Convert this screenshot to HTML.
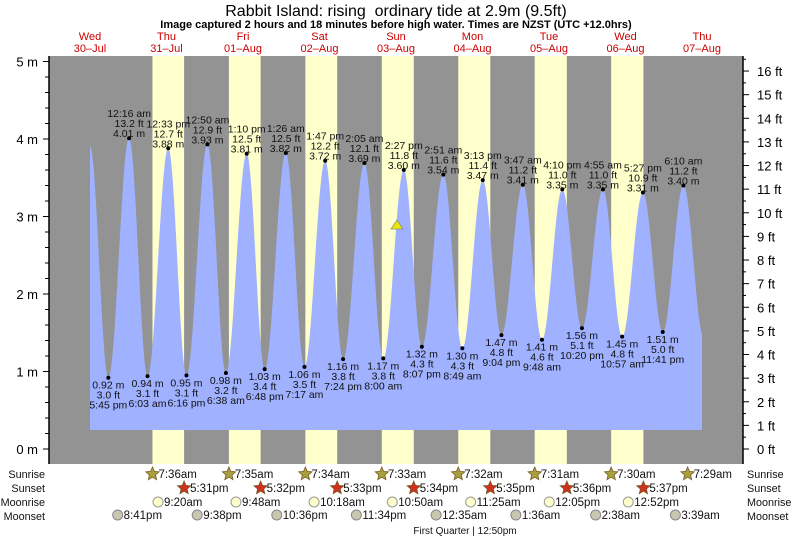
<!DOCTYPE html>
<html><head><meta charset="utf-8">
<style>
html,body{margin:0;padding:0;background:#fff;}
svg{display:block;font-family:"Liberation Sans",sans-serif;}
</style></head>
<body>
<svg id="s" width="793" height="538" viewBox="0 0 793 538" xmlns="http://www.w3.org/2000/svg">
<text x="396" y="16" font-size="16" text-anchor="middle" fill="#000">Rabbit Island: rising&#160; ordinary tide at 2.9m (9.5ft)</text>
<text x="396" y="28" font-size="11" font-weight="bold" text-anchor="middle" fill="#000">Image captured 2 hours and 18 minutes before high water. Times are NZST (UTC +12.0hrs)</text>
<rect x="49" y="56" width="694" height="408" fill="#939393"/>
<g id="g"></g>
</svg>
<script>
var NS="http://www.w3.org/2000/svg",g=document.getElementById('g');
function el(t,a,txt){var e=document.createElementNS(NS,t);for(var k in a)e.setAttribute(k,a[k]);if(txt!=null)e.textContent=txt;g.appendChild(e);return e;}
var X0=51.75,PH=3.1875,Y0=449,PM=77.5;
function X(h){return X0+h*PH;}function Y(m){return Y0-m*PM;}
var days=["Wed|30–Jul","Thu|31–Jul","Fri|01–Aug","Sat|02–Aug","Sun|03–Aug","Mon|04–Aug","Tue|05–Aug","Wed|06–Aug","Thu|07–Aug"];
var sr=[null,"7:36",  "7:35","7:34","7:33","7:32","7:31","7:30","7:29"];
var ss=[null,"5:31","5:32","5:33","5:34","5:35","5:36","5:37",null];
function hm(s,pm){var p=s.split(':');var h=+p[0]%12+(pm?12:0);return h+(+p[1])/60;}
for(var d=1;d<=7;d++){var a=X(24*d+hm(sr[d],0)),b=X(24*d+hm(ss[d],1));el('rect',{x:a,y:56,width:b-a,height:408,fill:'#ffffcc'});}
days.forEach(function(s,i){var p=s.split('|'),x=X(24*i+12);el('text',{x:x,y:40,'font-size':11,'text-anchor':'middle',fill:'#cc0000'},p[0]);el('text',{x:x,y:52,'font-size':11,'text-anchor':'middle',fill:'#cc0000'},p[1]);});
var T=[["5:45 pm",.92,3.0,0],["12:16 am",4.01,13.2,1],["6:03 am",.94,3.1,1],["12:33 pm",3.88,12.7,1],["6:16 pm",.95,3.1,1],["12:50 am",3.93,12.9,2],["6:38 am",.98,3.2,2],["1:10 pm",3.81,12.5,2],["6:48 pm",1.03,3.4,2],["1:26 am",3.82,12.5,3],["7:17 am",1.06,3.5,3],["1:47 pm",3.72,12.2,3],["7:24 pm",1.16,3.8,3],["2:05 am",3.69,12.1,4],["8:00 am",1.17,3.8,4],["2:27 pm",3.60,11.8,4],["8:07 pm",1.32,4.3,4],["2:51 am",3.54,11.6,5],["8:49 am",1.30,4.3,5],["3:13 pm",3.47,11.4,5],["9:04 pm",1.47,4.8,5],["3:47 am",3.41,11.2,6],["9:48 am",1.41,4.6,6],["4:10 pm",3.35,11.0,6],["10:20 pm",1.56,5.1,6],["4:55 am",3.35,11.0,7],["10:57 am",1.45,4.8,7],["5:27 pm",3.31,10.9,7],["11:41 pm",1.51,5.0,7],["6:10 am",3.40,11.2,8]];
var P=[[12,3.9]];T.forEach(function(t){var p=t[0].split(' ');var h=24*t[3]+hm(p[0],p[1]=='pm');t.h=h;P.push([h,t[1]]);});P.push([204.5,1.45]);
var bot=430,xs=90,xe=702,d="M"+xs+","+bot;
for(var x=xs;x<=xe;x+=0.5){var h=(x-X0)/PH,v;for(var i=0;i<P.length-1;i++){if(h>=P[i][0]&&h<=P[i+1][0]){var f=(h-P[i][0])/(P[i+1][0]-P[i][0]);v=P[i][1]+(P[i+1][1]-P[i][1])*(1-Math.cos(Math.PI*f))/2;break;}}if(v==null)v=P[P.length-1][1];d+=" L"+x+","+Y(v).toFixed(2);}
d+=" L"+xe+","+bot+" Z";el('path',{d:d,fill:'#9fb1ff'});
T.forEach(function(t,i){var x=X(t.h),y=Y(t[1]);el('circle',{cx:x,cy:y,r:2,fill:'#000'});var hi=t[1]>2;var L=[t[0],t[2].toFixed(1)+" ft",t[1].toFixed(2)+" m"];
if(hi){for(var k=0;k<3;k++)el('text',{x:x,y:y-21+k*10,'font-size':10.5,'text-anchor':'middle',fill:'#111'},L[k]);}
else{L.reverse();for(var k=0;k<3;k++)el('text',{x:x,y:y+11+k*10,'font-size':10.5,'text-anchor':'middle',fill:'#111'},L[k]);}});
el('polygon',{points:"391,229 397,220 403,229",fill:'#e8e800',stroke:'#888','stroke-width':0.7});
el('line',{x1:49,y1:56,x2:49,y2:464,stroke:'#000','stroke-width':1.5});el('line',{x1:743,y1:56,x2:743,y2:464,stroke:'#000','stroke-width':1.5});
for(var m=0;m<=5.01;m+=0.2){var y=Y(m),mj=Math.abs(m-Math.round(m))<0.01;el('line',{x1:mj?43:45,y1:y,x2:49,y2:y,stroke:'#000'});if(mj)el('text',{x:38,y:y+5,'font-size':13,'text-anchor':'end',fill:'#000'},Math.round(m)+" m");}
for(var f=0;f<=16.5;f+=0.5){var y=Y(f*0.3048),mj=f%1==0;el('line',{x1:743,y1:y,x2:mj?749:746,y2:y,stroke:'#000'});if(mj)el('text',{x:757,y:y+5,'font-size':13,fill:'#000'},f+" ft");}
var rows=[["Sunrise",478],["Sunset",492],["Moonrise",506],["Moonset",520]];
rows.forEach(function(r){el('text',{x:45,y:r[1],'font-size':10.8,'text-anchor':'end',fill:'#111'},r[0]);el('text',{x:747,y:r[1],'font-size':10.8,fill:'#111'},r[0]);});
function star(cx,cy,col){var p=[];for(var i=0;i<10;i++){var a=-Math.PI/2+i*Math.PI/5,rr=i%2?3.2:7;p.push((cx+rr*Math.cos(a)).toFixed(1)+","+(cy+rr*Math.sin(a)).toFixed(1));}el('polygon',{points:p.join(' '),fill:col,stroke:'#7a5a20','stroke-width':0.8});}
for(var d=1;d<=8;d++){var x=X(24*d+hm(sr[d],0));star(x,474,'#a8a040');el('text',{x:x+6,y:478,'font-size':11.5,fill:'#111'},sr[d]+"am");
if(ss[d]){x=X(24*d+hm(ss[d],1));star(x,488,'#d03020');el('text',{x:x+6,y:492,'font-size':11.5,fill:'#111'},ss[d]+"pm");}}
var mr=[[1,"9:20",0],[2,"9:48",0],[3,"10:18",0],[4,"10:50",0],[5,"11:25",0],[6,"12:05",1],[7,"12:52",1]];
mr.forEach(function(m){var x=X(24*m[0]+hm(m[1],m[2]));el('circle',{cx:x,cy:502,r:5,fill:'#ffffcc',stroke:'#999'});el('text',{x:x+6,y:506,'font-size':11.5,fill:'#111'},m[1]+(m[2]?"pm":"am"));});
var ms=[[0,"8:41",1],[1,"9:38",1],[2,"10:36",1],[3,"11:34",1],[5,"12:35",0],[6,"1:36",0],[7,"2:38",0],[8,"3:39",0]];
ms.forEach(function(m){var x=X(24*m[0]+hm(m[1],m[2]));el('circle',{cx:x,cy:515,r:5,fill:'#c8c8b0',stroke:'#888'});el('text',{x:x+6,y:519,'font-size':11.5,fill:'#111'},m[1]+(m[2]?"pm":"am"));});
el('text',{x:465,y:534,'font-size':10,'text-anchor':'middle',fill:'#111'},"First Quarter | 12:50pm");
</script>
</body></html>
